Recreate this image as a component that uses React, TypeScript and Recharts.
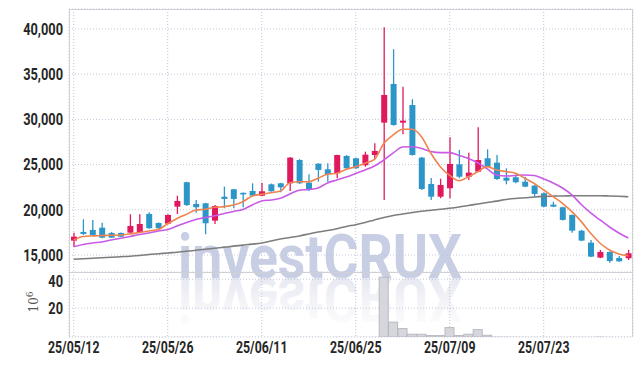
import React from 'react';
import { ComposedChart, Bar, Line, XAxis, YAxis, CartesianGrid } from 'recharts';

const dates = [
  '25/05/12', '25/05/13', '25/05/14', '25/05/15', '25/05/16', '25/05/19', '25/05/20', '25/05/21', '25/05/22', '25/05/23',
  '25/05/26', '25/05/27', '25/05/28', '25/05/29', '25/05/30', '25/06/02', '25/06/04', '25/06/05', '25/06/09', '25/06/10',
  '25/06/11', '25/06/12', '25/06/13', '25/06/16', '25/06/17', '25/06/18', '25/06/19', '25/06/20', '25/06/23', '25/06/24',
  '25/06/25', '25/06/26', '25/06/27', '25/06/30', '25/07/01', '25/07/02', '25/07/03', '25/07/04', '25/07/07', '25/07/08',
  '25/07/09', '25/07/10', '25/07/11', '25/07/14', '25/07/15', '25/07/16', '25/07/17', '25/07/18', '25/07/21', '25/07/22',
  '25/07/23', '25/07/24', '25/07/25', '25/07/28', '25/07/29', '25/07/30', '25/07/31', '25/08/01', '25/08/04', '25/08/05',
];

const open = [
  16590, 17550, 17770, 18020, 17440, 17440, 17470, 17510, 19540, 18540,
  18470, 20350, 23050, 20650, 20720, 18800, 21450, 22270, 21880, 22080,
  21560, 22820, 22930, 22930, 25510, 23000, 25100, 24480, 24040, 25950,
  25700, 24930, 26060, 29640, 33920, 29640, 31590, 25770, 22860, 21450,
  22380, 25030, 23660, 24220, 25700, 25210, 23550, 23600, 23110, 22670,
  21830, 20570, 20280, 19430, 17690, 16370, 14710, 15340, 14670, 14640,
];
const high = [
  17470, 18950, 18880, 18580, 17550, 17500, 19510, 19510, 19730, 18600,
  19500, 21560, 23100, 21090, 20760, 20530, 22560, 22300, 21900, 22930,
  23000, 22900, 22980, 25830, 25600, 23930, 25150, 25150, 26100, 26050,
  25750, 26430, 27360, 40190, 37760, 33620, 32230, 25850, 23520, 23440,
  28020, 26620, 26320, 29130, 26690, 26060, 24590, 23900, 23660, 22780,
  21900, 20900, 20330, 19480, 17770, 16660, 15560, 15400, 14890, 15560,
];
const low = [
  15920, 17220, 17110, 16860, 16900, 17000, 17400, 17450, 17900, 17900,
  18400, 19540, 20420, 19680, 17290, 18430, 20170, 20170, 20280, 21500,
  21500, 22000, 21940, 22080, 22850, 22080, 23110, 23110, 23490, 24550,
  24550, 24770, 25590, 21090, 29300, 28350, 26000, 22200, 21090, 21280,
  21280, 23480, 23300, 24150, 24700, 23300, 22820, 22950, 22500, 21450,
  20300, 20300, 18820, 17470, 16530, 14750, 14650, 14150, 14250, 14450,
];
const close = [
  17030, 17330, 17220, 16920, 16920, 17030, 18210, 18430, 17960, 17960,
  19430, 20980, 20530, 20280, 18510, 20420, 21200, 21200, 21800, 21560,
  22050, 22050, 22490, 25770, 22930, 22190, 24410, 23930, 26060, 24590,
  24590, 26100, 26510, 32700, 29380, 29860, 26060, 22300, 21450, 22750,
  25070, 23660, 24110, 25510, 24770, 23410, 23220, 23050, 22560, 21750,
  20350, 20350, 18880, 17690, 16590, 14820, 15340, 14340, 14300, 15190,
];

const ma5 = [
  16660, 17050, 17110, 17160, 17180, 17220, 17330, 17490, 17660, 17820,
  18450, 19040, 19500, 19980, 20060, 20280, 20350, 20530, 20900, 21530,
  21720, 21890, 22080, 23000, 23110, 23110, 23490, 23930, 24040, 24480,
  24770, 25150, 25570, 27360, 28280, 28910, 28910, 28090, 26250, 24770,
  23800, 23220, 23660, 24220, 24770, 24400, 24220, 24040, 23490, 22910,
  22190, 21450, 20720, 19790, 18690, 17400, 16300, 15560, 15120, 14930,
];
const ma20 = [
  15920, 16170, 16330, 16440, 16660, 16850, 17050, 17270, 17440, 17660,
  17820, 18210, 18600, 18930, 19150, 19340, 19590, 19820, 20040, 20540,
  20980, 21090, 21280, 21750, 22160, 22250, 22410, 22970, 23300, 23630,
  24020, 24410, 24850, 25510, 26290, 26950, 26980, 26780, 26450, 26320,
  26320, 26010, 25680, 25180, 24520, 23850, 23740, 23800, 23850, 23800,
  23410, 22970, 22410, 21640, 20590, 19650, 18880, 18100, 17440, 16880,
];
const ma60 = [
  14530, 14580, 14640, 14700, 14750, 14810, 14870, 14950, 15060, 15140,
  15230, 15310, 15410, 15520, 15630, 15750, 15860, 15980, 16090, 16200,
  16330, 16550, 16770, 16940, 17110, 17330, 17550, 17710, 17910, 18160,
  18350, 18600, 18880, 19150, 19370, 19540, 19710, 19840, 19950, 20060,
  20170, 20310, 20480, 20650, 20810, 20960, 21140, 21250, 21330, 21420,
  21480, 21510, 21530, 21550, 21560, 21560, 21550, 21530, 21500, 21450,
];

// volume in millions of shares
const volume = [
  0.2, 0.2, 0.1, 0.2, 0.1, 0.1, 0.2, 0.2, 0.2, 0.1,
  0.2, 0.3, 0.3, 0.2, 0.3, 0.2, 0.2, 0.1, 0.1, 0.1,
  0.1, 0.1, 0.1, 0.3, 0.2, 0.2, 0.2, 0.1, 0.3, 0.2,
  0.2, 0.2, 0.3, 41.4, 10.3, 5.8, 1.9, 1.9, 1.0, 1.0,
  6.5, 1.0, 1.9, 5.1, 1.2, 0.6, 0.5, 0.4, 0.3, 0.3,
  0.3, 0.2, 0.2, 0.3, 0.3, 0.3, 0.6, 0.3, 0.2, 0.2,
];

const priceTicks = [15000, 20000, 25000, 30000, 35000, 40000];
const volumeTicks = [20, 40];

const RED = '#e0195f';
const BLUE = '#2d96c9';
const GRID = '#c3c6da';
const BORDER = '#cfd0d6';
const FONT = "Roboto, 'DejaVu Sans', sans-serif";

const data = dates.map((date, i) => ({
  date,
  open: open[i],
  high: high[i],
  low: low[i],
  close: close[i],
  ma5: ma5[i],
  ma20: ma20[i],
  ma60: ma60[i],
  volume: volume[i],
}));

// condensed-looking tick labels: regular font squeezed horizontally
const YTick = (props: any) => {
  const { x, y, payload } = props;
  return (
    <text
      transform={`translate(${x},${y}) scale(0.8,1)`}
      textAnchor="end"
      dy="0.36em"
      fontFamily={FONT}
      fontSize={16}
      fontWeight={700}
      fill="#262626"
    >
      {Number(payload.value).toLocaleString('en-US')}
    </text>
  );
};

const XTick = (props: any) => {
  const { x, y, payload } = props;
  return (
    <text
      transform={`translate(${x},${y}) scale(0.77,1)`}
      textAnchor="middle"
      dy="0.71em"
      fontFamily={FONT}
      fontSize={16}
      fontWeight={700}
      fill="#262626"
    >
      {payload.value}
    </text>
  );
};

const Candle = (props: any) => {
  const { x, y, width, height, payload } = props;
  if (x == null || y == null || !payload) return null;
  const top = Math.min(y, y + height);
  const h = Math.abs(height);
  const range = payload.high - payload.low || 1;
  const toY = (v: number) => top + ((payload.high - v) / range) * h;
  const up = payload.close >= payload.open;
  const color = up ? RED : BLUE;
  const yo = toY(payload.open);
  const yc = toY(payload.close);
  const bodyTop = Math.min(yo, yc);
  const bodyH = Math.max(Math.abs(yo - yc), 1.6);
  const cx = x + width / 2;
  return (
    <g>
      <line x1={cx} x2={cx} y1={top} y2={top + h} stroke={color} strokeWidth={1.3} />
      <rect x={x} y={bodyTop} width={width} height={bodyH} fill={color} />
    </g>
  );
};

const VolumeBar = (props: any) => {
  const { x, y, width, height } = props;
  if (x == null || y == null) return null;
  const top = Math.min(y, y + height);
  const h = Math.abs(height);
  return (
    <rect
      x={x}
      y={top}
      width={width}
      height={h}
      fill="#d6d6dd"
      stroke={h > 1 ? '#b9b9c2' : 'none'}
      strokeWidth={1}
    />
  );
};

const Watermark = () => (
  <svg width={643} height={366} style={{ position: 'absolute', left: 0, top: 0 }}>
    <defs>
      <linearGradient id="wmFade" x1="0" y1="0" x2="0" y2="1">
        <stop offset="0%" stopColor="#e9eaf2" stopOpacity={0} />
        <stop offset="100%" stopColor="#dfe1ec" stopOpacity={1} />
      </linearGradient>
    </defs>
    <text
      x={178}
      y={278}
      fontFamily={FONT}
      fontWeight={700}
      fontSize={61}
      textLength={284}
      lengthAdjust="spacingAndGlyphs"
      fill="#c8cee4"
    >
      investCRUX
    </text>
    <text
      x={178}
      y={278}
      fontFamily={FONT}
      fontWeight={700}
      fontSize={61}
      textLength={284}
      lengthAdjust="spacingAndGlyphs"
      fill="url(#wmFade)"
      transform="translate(0 556) scale(1 -1)"
    >
      investCRUX
    </text>
  </svg>
);

const Frame = () => (
  <svg width={643} height={366} style={{ position: 'absolute', left: 0, top: 0, pointerEvents: 'none' }}>
    <line x1={69} x2={633} y1={9.5} y2={9.5} stroke={BORDER} />
    <line x1={69} x2={633} y1={272.5} y2={272.5} stroke={BORDER} />
    <line x1={69.5} x2={69.5} y1={9} y2={337} stroke={BORDER} />
    <line x1={632.5} x2={632.5} y1={9} y2={337} stroke={BORDER} />
    <text
      transform="translate(37.5 302) rotate(-90)"
      textAnchor="middle"
      fontFamily="'DejaVu Serif', serif"
      fontSize={12}
      fill="#555"
    >
      10<tspan dy={-5} fontSize={9}>6</tspan>
    </text>
  </svg>
);

export default function App() {
  return (
    <div style={{ position: 'absolute', left: 0, top: 0, width: 643, height: 366, background: '#fff' }}>
      <Watermark />
      <div style={{ position: 'absolute', left: 0, top: 0 }}>
        <ComposedChart
          width={643}
          height={272}
          data={data}
          margin={{ top: 9, right: 10, bottom: 0, left: 0 }}
          barSize={6}
        >
          <CartesianGrid stroke={GRID} strokeDasharray="1 2" />
          <XAxis dataKey="date" hide interval={9} />
          <YAxis
            domain={[13120, 42210]}
            ticks={priceTicks}
            allowDataOverflow
            width={69}
            tickLine={false}
            axisLine={false}
            tickSize={4}
            tickMargin={2}
            tick={<YTick />}
          />
          <Bar dataKey={(d: any) => [d.low, d.high]} shape={<Candle />} isAnimationActive={false} />
          <Line type="monotone" dataKey="ma60" stroke="#7d7d7d" strokeWidth={1.6} dot={false} isAnimationActive={false} />
          <Line type="monotone" dataKey="ma20" stroke="#c95ae6" strokeWidth={1.6} dot={false} isAnimationActive={false} />
          <Line type="monotone" dataKey="ma5" stroke="#f0844f" strokeWidth={1.6} dot={false} isAnimationActive={false} />
        </ComposedChart>
      </div>
      <div style={{ position: 'absolute', left: 0, top: 272 }}>
        <ComposedChart
          width={643}
          height={94}
          data={data}
          margin={{ top: 0, right: 10, bottom: 0, left: 0 }}
          barCategoryGap={0}
        >
          <CartesianGrid stroke={GRID} strokeDasharray="1 2" />
          <XAxis
            dataKey="date"
            interval={9}
            height={29}
            tickLine={false}
            axisLine={false}
            tickSize={3}
            tickMargin={2}
            tick={<XTick />}
          />
          <YAxis
            domain={[0, 45]}
            ticks={volumeTicks}
            allowDataOverflow
            width={69}
            tickLine={false}
            axisLine={false}
            tickSize={4}
            tickMargin={2}
            tick={<YTick />}
          />
          <Bar dataKey="volume" shape={<VolumeBar />} isAnimationActive={false} />
        </ComposedChart>
      </div>
      <Frame />
    </div>
  );
}
